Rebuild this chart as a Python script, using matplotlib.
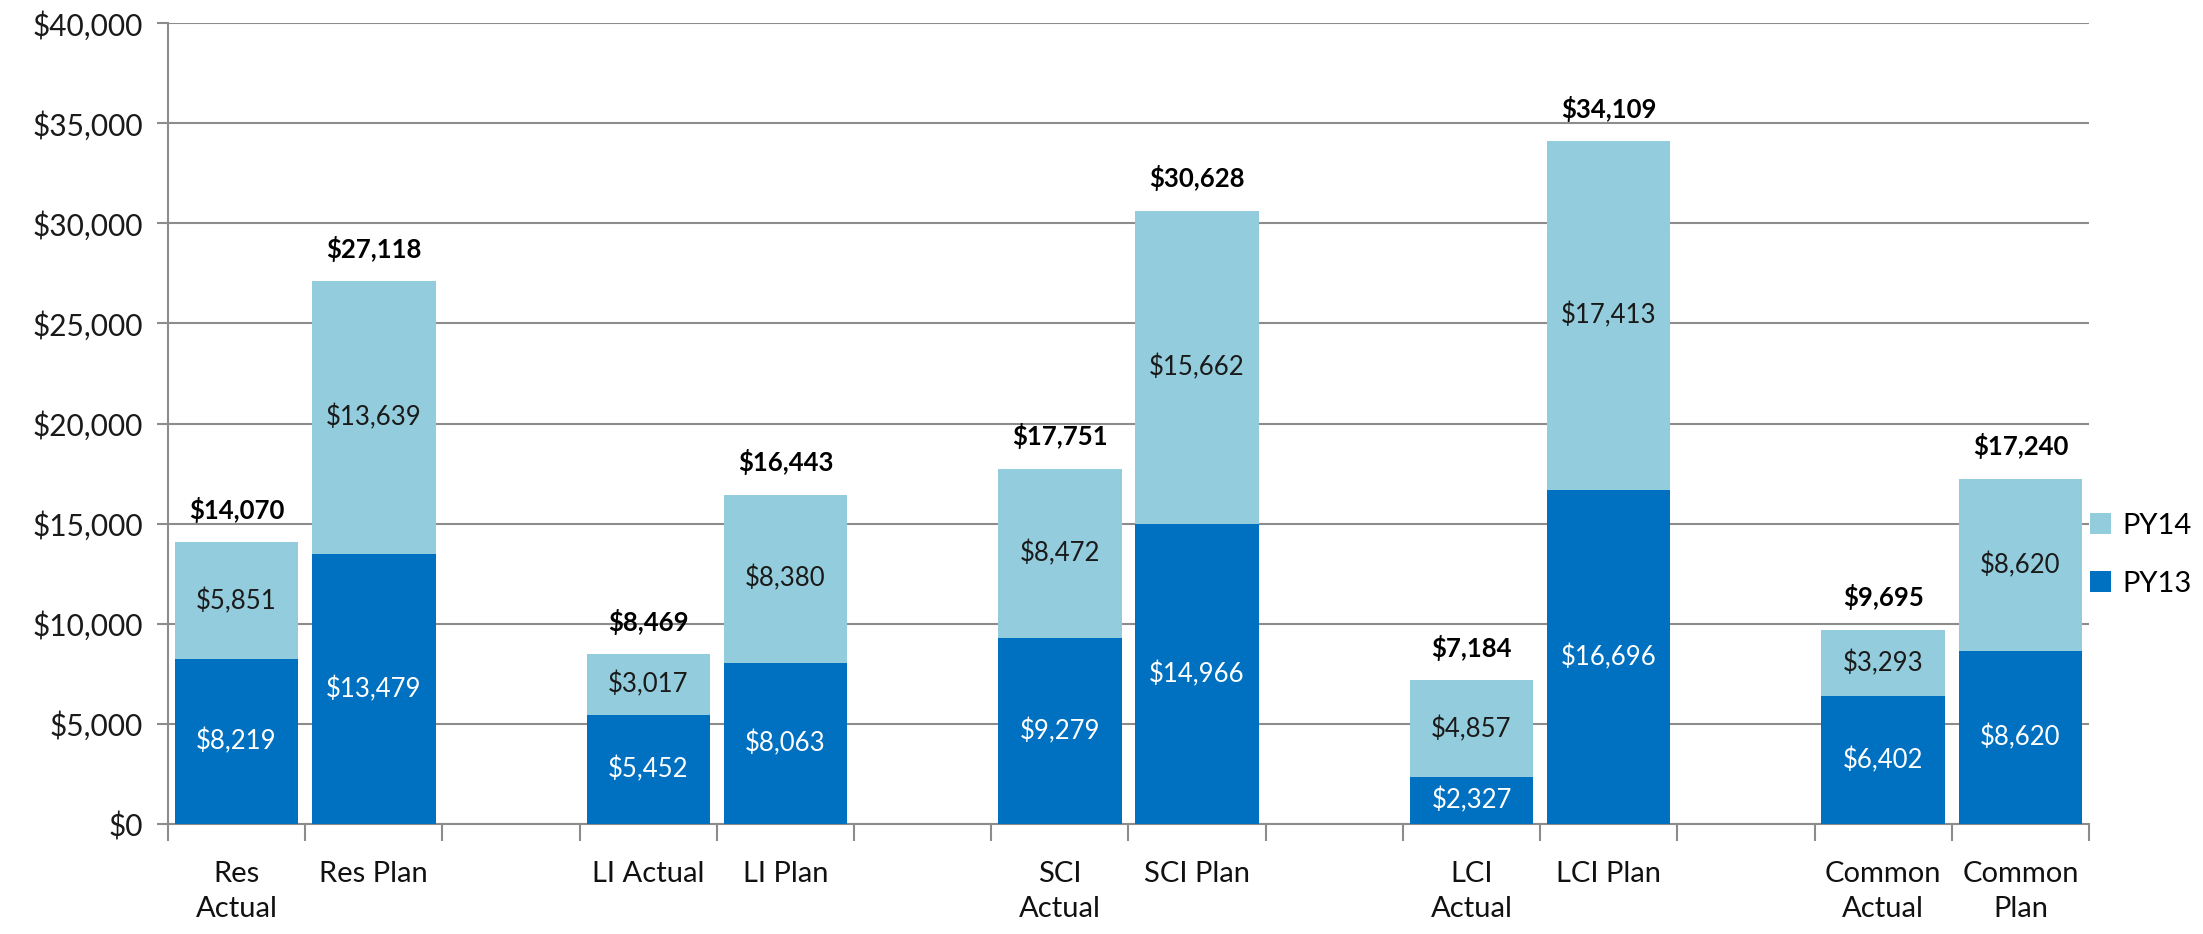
import matplotlib
matplotlib.use("Agg")
import matplotlib.pyplot as plt
import numpy as np

categories = ["Res\nActual", "Res Plan", "", "LI Actual", "LI Plan", "",
              "SCI\nActual", "SCI Plan", "", "LCI\nActual", "LCI Plan", "",
              "Common\nActual", "Common\nPlan"]
py13 = [8219, 13479, None, 5452, 8063, None, 9279, 14966, None, 2327, 16696, None, 6402, 8620]
py14 = [5851, 13639, None, 3017, 8380, None, 8472, 15662, None, 4857, 17413, None, 3293, 8620]
totals = [14070, 27118, None, 8469, 16443, None, 17751, 30628, None, 7184, 34109, None, 9695, 17240]
yticks = [0, 5000, 10000, 15000, 20000, 25000, 30000, 35000, 40000]

C13 = "#0070C0"
C14 = "#93CDDD"
GRID = "#8C8C8C"

plt.rcParams['font.family'] = ['Lato', 'DejaVu Sans']

fig = plt.figure(figsize=(22.03, 9.34), dpi=100)
ax = fig.add_axes([168/2203, 110/934, (2089-168)/2203, (824-23)/934])

x = np.arange(len(categories))
v13 = np.array([np.nan if v is None else v for v in py13], dtype=float)
v14 = np.array([np.nan if v is None else v for v in py14], dtype=float)
b13 = ax.bar(x, np.nan_to_num(v13), width=0.9, color=C13, zorder=3, label="PY13")
b14 = ax.bar(x, np.nan_to_num(v14), width=0.9, bottom=np.nan_to_num(v13), color=C14, zorder=3, label="PY14")

lab13 = ["" if v is None else f"${v:,}" for v in py13]
lab14 = ["" if v is None else f"${v:,}" for v in py14]
labt = ["" if v is None else f"${v:,}" for v in totals]
ax.bar_label(b13, labels=lab13, label_type="center", color="white", fontsize=18.5)
ax.bar_label(b14, labels=lab14, label_type="center", color="#1a1a1a", fontsize=18.5)
ax.bar_label(b14, labels=labt, label_type="edge", padding=14, color="black",
             fontsize=18.5, fontweight="bold")

ax.set_ylim(0, 40000)
ax.set_xlim(-0.5, len(categories) - 0.5)
ax.set_yticks(yticks)
ax.set_yticklabels([f"${v:,}" for v in yticks], fontsize=21.5, color="#1a1a1a")
ax.yaxis.grid(True, color=GRID, linewidth=1.5, zorder=0)
ax.set_axisbelow(True)

ax.set_xticks(x)
ax.set_xticklabels(categories, fontsize=21, color="#111111", linespacing=1.4)
ax.set_xticks(np.arange(-0.5, len(categories)), minor=True)
ax.tick_params(axis="x", which="major", length=0, pad=27)
ax.tick_params(axis="x", which="minor", length=12, width=1.5, color=GRID)
ax.tick_params(axis="y", length=8, width=1.5, color=GRID, pad=10)

for s in ["top", "right"]:
    ax.spines[s].set_visible(False)
for s in ["left", "bottom"]:
    ax.spines[s].set_color(GRID)
    ax.spines[s].set_linewidth(1.5)

handles = [b14, b13]
leg = fig.legend(handles, ["PY14", "PY13"], loc="center left",
                 bbox_to_anchor=(2078/2203, 1 - 555/934), frameon=False,
                 fontsize=21, handlelength=0.72, handleheight=0.72,
                 handletextpad=0.4, labelspacing=1.1, borderaxespad=0)

fig.savefig("out.png", dpi=100)
